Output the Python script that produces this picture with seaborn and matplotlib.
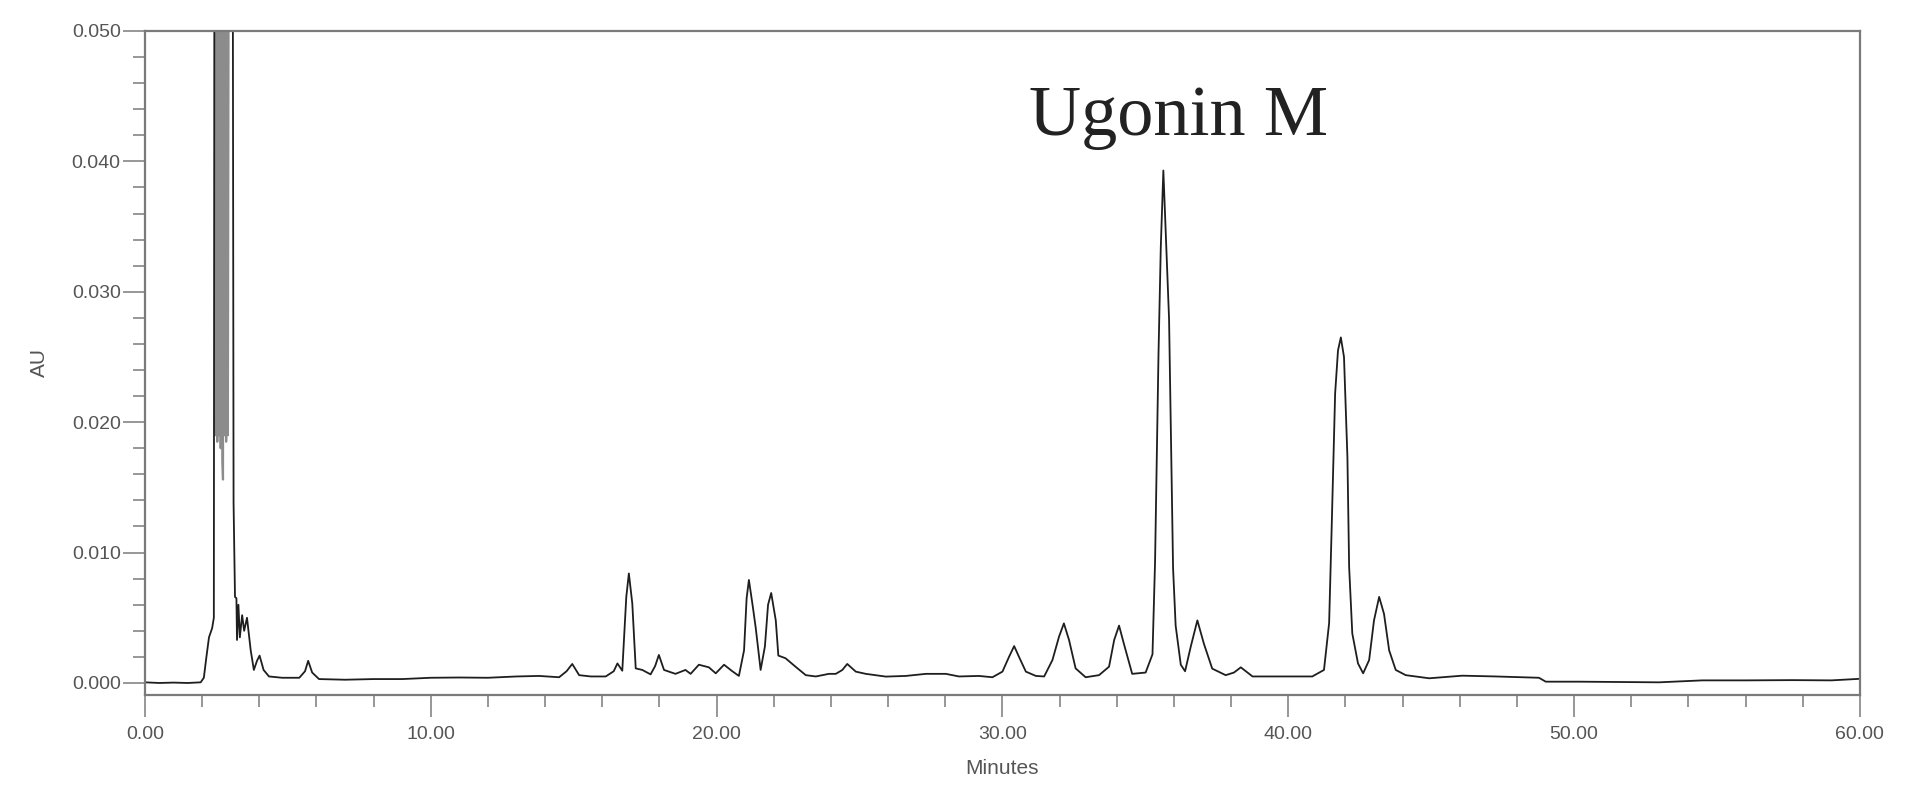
import numpy as np
import pandas as pd
import seaborn as sns
from matplotlib import pyplot as plt
from matplotlib.ticker import MultipleLocator, FormatStrFormatter

# retention time (min) and absorbance (AU)
minutes = [0.0, 0.5, 1.0, 1.5, 1.95, 2.06, 2.15, 2.24, 2.35, 2.41, 2.43,
           3.07, 3.10, 3.15, 3.20, 3.22, 3.27, 3.32, 3.40, 3.47, 3.57, 3.70, 3.81,
           3.92, 4.01, 4.15, 4.34, 4.8, 5.4, 5.6, 5.71, 5.85, 6.09, 7.0, 8.0, 9.0,
           10.0, 11.0, 12.0, 13.0, 13.79, 14.49, 14.75, 14.95, 15.19, 15.6, 16.12,
           16.4, 16.53, 16.70, 16.84, 16.93, 17.05, 17.17, 17.40, 17.69, 17.85,
           17.98, 18.16, 18.56, 18.91, 19.09, 19.38, 19.73, 19.97, 20.26, 20.55,
           20.78, 20.96, 21.05, 21.13, 21.27, 21.37, 21.54, 21.69, 21.80, 21.91,
           22.07, 22.16, 22.41, 22.76, 23.12, 23.47, 23.93, 24.17, 24.40, 24.57,
           24.87, 25.22, 25.92, 26.62, 27.32, 28.02, 28.48, 29.18, 29.65, 30.0,
           30.23, 30.41, 30.58, 30.82, 31.17, 31.46, 31.75, 31.98, 32.15, 32.33,
           32.56, 32.91, 33.38, 33.73, 33.91, 34.08, 34.25, 34.54, 35.01, 35.25,
           35.34, 35.40, 35.46, 35.54, 35.63, 35.71, 35.83, 35.89, 35.97, 36.06,
           36.24, 36.39, 36.59, 36.82, 37.05, 37.34, 37.81, 38.10, 38.34, 38.75,
           39.21, 39.67, 40.38, 40.84, 41.25, 41.43, 41.52, 41.64, 41.74, 41.84,
           41.95, 42.07, 42.13, 42.24, 42.44, 42.62, 42.83, 43.00, 43.18, 43.35,
           43.53, 43.76, 44.11, 44.93, 46.09, 47.26, 48.77, 49.01, 50.18, 51.5,
           52.97, 54.49, 56.0, 57.64, 59.0, 59.86, 60.0]
au = [0.00005, 0.0, 0.00003, 0.0, 0.00005, 0.0004, 0.002, 0.0035, 0.0042, 0.005, 0.06,
      0.06, 0.0138, 0.0066, 0.0065, 0.0033, 0.006, 0.0035, 0.0052, 0.004, 0.005, 0.0025, 0.001,
      0.0017, 0.0021, 0.0010, 0.0005, 0.0004, 0.0004, 0.0009, 0.0017, 0.0008, 0.0003, 0.00025, 0.0003, 0.0003,
      0.0004, 0.00042, 0.0004, 0.0005, 0.00054, 0.00044, 0.0009, 0.00146, 0.0006, 0.0005, 0.0005,
      0.0009, 0.0015, 0.00094, 0.0066, 0.0084, 0.0061, 0.00112, 0.001, 0.00066, 0.0013,
      0.00215, 0.001, 0.0007, 0.001, 0.0007, 0.0014, 0.0012, 0.00074, 0.0014, 0.0009,
      0.00054, 0.0025, 0.0065, 0.0079, 0.0058, 0.0042, 0.001, 0.0028, 0.0060, 0.0069,
      0.0048, 0.0021, 0.0019, 0.00125, 0.0006, 0.0005, 0.0007, 0.0007, 0.0010, 0.00146,
      0.00087, 0.0007, 0.00049, 0.00054, 0.0007, 0.0007, 0.0005, 0.00054, 0.00044, 0.00087,
      0.002, 0.00283, 0.002, 0.00087, 0.00054, 0.0005, 0.00176, 0.00355, 0.00457, 0.0033,
      0.00112, 0.00044, 0.0006, 0.00125, 0.0033, 0.0044, 0.0030, 0.0007, 0.0008, 0.0022,
      0.0093, 0.0175, 0.0252, 0.0334, 0.0393, 0.0348, 0.0279, 0.0197, 0.0088, 0.0044,
      0.0014, 0.0009, 0.0028, 0.0048, 0.003, 0.0011, 0.0006, 0.0008, 0.0012, 0.0005,
      0.0005, 0.0005, 0.0005, 0.0005, 0.001, 0.0046, 0.012, 0.0222, 0.0255, 0.0265,
      0.025, 0.0173, 0.0089, 0.0038, 0.0015, 0.00074, 0.00176, 0.0048, 0.0066, 0.0053,
      0.0025, 0.001, 0.0006, 0.00036, 0.00056, 0.0005, 0.0004, 0.0001, 0.0001, 0.00008,
      0.00005, 0.0002, 0.0002, 0.00022, 0.0002, 0.0003, 0.00032]

# noisy off-scale solvent front (drawn as a gray band in the original)
front_minutes = [2.45, 2.47, 2.50, 2.53, 2.56, 2.59, 2.62, 2.65, 2.68, 2.71, 2.73,
                 2.75, 2.78, 2.81, 2.84, 2.87, 2.90, 2.93]
front_au = [0.06, 0.019, 0.06, 0.0185, 0.06, 0.019, 0.06, 0.018, 0.06, 0.017, 0.0156,
            0.06, 0.019, 0.06, 0.0185, 0.06, 0.019, 0.06]

compound = "Ugonin M"

sns.set_style("ticks")
plt.rcParams['font.family'] = ['Liberation Sans', 'DejaVu Sans']

df = pd.DataFrame({"Minutes": minutes, "AU": au})
front = pd.DataFrame({"Minutes": front_minutes, "AU": front_au})

fig = plt.figure(figsize=(19.2, 7.98), dpi=100)
ax = fig.add_axes([0.0755, 0.1291, 0.8932, 0.8321])
sns.lineplot(data=front, x="Minutes", y="AU", ax=ax, color="#8c8c8c",
             linewidth=1.6, estimator=None, sort=False)
sns.lineplot(data=df, x="Minutes", y="AU", ax=ax, color="#1e1e1e",
             linewidth=1.3, estimator=None, sort=False)

ax.set_xlim(0, 60)
ax.xaxis.set_major_locator(MultipleLocator(10))
ax.xaxis.set_minor_locator(MultipleLocator(2))
ax.yaxis.set_major_locator(MultipleLocator(0.01))
ax.yaxis.set_minor_locator(MultipleLocator(0.002))
ax.xaxis.set_major_formatter(FormatStrFormatter('%.2f'))
ax.yaxis.set_major_formatter(FormatStrFormatter('%.3f'))
ax.set_ylim(-0.00092, 0.05)

gray = "#7a7a7a"
for s in ax.spines.values():
    s.set_color(gray)
    s.set_linewidth(1.6)
ax.tick_params(which='major', length=16, width=1.1, color=gray,
               labelsize=14, labelcolor="#555555")
ax.tick_params(which='minor', length=8.5, width=1.1, color=gray)
ax.tick_params(axis='x', which='major', pad=6)
ax.tick_params(axis='y', which='major', pad=1.5)

ax.set_xlabel("Minutes", fontsize=15, color="#555555", labelpad=12)
ax.set_ylabel("AU", fontsize=15, color="#555555", labelpad=16)

ax.text(30.93, 0.042, compound, family='Liberation Serif', fontsize=52,
        color="#222222", ha='left', va='baseline')

plt.savefig('out.png', dpi=100)
